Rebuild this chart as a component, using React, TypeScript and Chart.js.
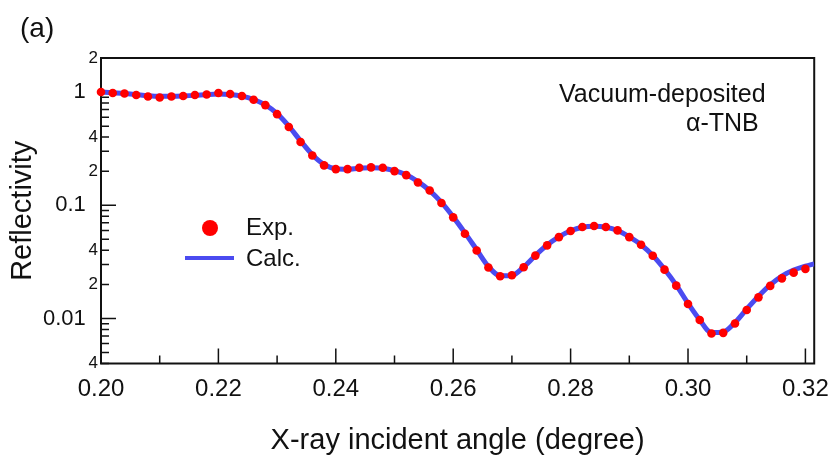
import React, { useEffect, useRef } from "react";
import { Chart, registerables } from "chart.js";

Chart.register(...registerables);

// ---- data ----
const expAngles = [
  0.200, 0.202, 0.204, 0.206, 0.208, 0.210, 0.212, 0.214, 0.216, 0.218,
  0.220, 0.222, 0.224, 0.226, 0.228, 0.230, 0.232, 0.234, 0.236, 0.238,
  0.240, 0.242, 0.244, 0.246, 0.248, 0.250, 0.252, 0.254, 0.256, 0.258,
  0.260, 0.262, 0.264, 0.266, 0.268, 0.270, 0.272, 0.274, 0.276, 0.278,
  0.280, 0.282, 0.284, 0.286, 0.288, 0.290, 0.292, 0.294, 0.296, 0.298,
  0.300, 0.302, 0.304, 0.306, 0.308, 0.310, 0.312, 0.314, 0.316, 0.318,
  0.320,
];
const expReflectivity = [
  1.000, 0.980, 0.972, 0.941, 0.914, 0.896, 0.914, 0.922, 0.941, 0.952,
  0.980, 0.960, 0.922, 0.855, 0.767, 0.638, 0.492, 0.362, 0.275, 0.225,
  0.2087, 0.2087, 0.2143, 0.216, 0.2143, 0.2003, 0.1846, 0.159, 0.135, 0.1048,
  0.0782, 0.0561, 0.0399, 0.0282, 0.0236, 0.0241, 0.0283, 0.0359, 0.0442, 0.0523,
  0.0592, 0.0642, 0.0655, 0.0642, 0.0600, 0.0523, 0.0448, 0.0358, 0.0270, 0.0195,
  0.01342, 0.00968, 0.00736, 0.00746, 0.00903, 0.01187, 0.01536, 0.0194, 0.0226, 0.0254,
  0.0274,
];
const calcAngles = [
  0.200, 0.202, 0.204, 0.206, 0.208, 0.210, 0.212, 0.214, 0.216, 0.218,
  0.220, 0.222, 0.224, 0.226, 0.228, 0.230, 0.232, 0.234, 0.236, 0.238,
  0.240, 0.242, 0.244, 0.246, 0.248, 0.250, 0.252, 0.254, 0.256, 0.258,
  0.260, 0.262, 0.264, 0.266, 0.268, 0.270, 0.272, 0.274, 0.276, 0.278,
  0.280, 0.282, 0.284, 0.286, 0.288, 0.290, 0.292, 0.294, 0.296, 0.298,
  0.300, 0.302, 0.304, 0.306, 0.308, 0.310, 0.312, 0.314, 0.316, 0.318,
  0.320, 0.3215,
];
const calcReflectivity = [
  1.000, 0.985, 0.970, 0.950, 0.930, 0.920, 0.920, 0.925, 0.935, 0.950,
  0.960, 0.950, 0.920, 0.860, 0.770, 0.645, 0.500, 0.370, 0.280, 0.230,
  0.210, 0.208, 0.212, 0.214, 0.212, 0.202, 0.186, 0.162, 0.135, 0.106,
  0.079, 0.057, 0.0405, 0.0288, 0.0238, 0.0240, 0.0285, 0.0360, 0.0445, 0.0525,
  0.0595, 0.0640, 0.0652, 0.0640, 0.0598, 0.0525, 0.0448, 0.0360, 0.0272, 0.0197,
  0.0136, 0.0097, 0.0075, 0.0076, 0.0092, 0.0121, 0.0157, 0.0198, 0.0237, 0.0268,
  0.0290, 0.0304,
];

// x axis ticks
const xTickValues = [0.20, 0.21, 0.22, 0.23, 0.24, 0.25, 0.26, 0.27, 0.28, 0.29, 0.30, 0.31, 0.32];
const xTickLabels = ["0.20", "", "0.22", "", "0.24", "", "0.26", "", "0.28", "", "0.30", "", "0.32"];

// y axis ticks (log)
const yTickValues = [
  0.004, 0.005, 0.006, 0.007, 0.008, 0.009,
  0.01, 0.02, 0.03, 0.04, 0.05, 0.06, 0.07, 0.08, 0.09,
  0.1, 0.2, 0.3, 0.4, 0.5, 0.6, 0.7, 0.8, 0.9,
  1, 2,
];
const yMajorValues = [0.01, 0.1, 1];
const yMajorLabels = ["0.01", "0.1", "1"];
const yMinorLabelValues = [0.004, 0.02, 0.04, 0.2, 0.4, 2];
const yMinorLabels = ["4", "2", "4", "2", "4", "2"];

const FONT = '"Liberation Sans", Arial, Helvetica, sans-serif';
const INK = "#111111";
const RED = "#ff0000";
const BLUE = "#4b4bf0";

const near = (a: number, b: number) => Math.abs(a - b) <= Math.abs(b) * 1e-6 + 1e-9;
const majorIndex = (v: number) => yMajorValues.findIndex((m) => near(v, m));
const minorLabelIndex = (v: number) => yMinorLabelValues.findIndex((m) => near(v, m));

const decorPlugin = {
  id: "decor",
  beforeDatasetsDraw(chart: any) {
    const { ctx, chartArea: a, scales } = chart;
    const xs = scales.x;
    const ys = scales.y;
    ctx.save();
    ctx.strokeStyle = INK;
    ctx.lineWidth = 1.5;
    ctx.beginPath();
    yTickValues.forEach((v) => {
      const py = ys.getPixelForValue(v);
      const len = majorIndex(v) >= 0 ? 15 : 8;
      ctx.moveTo(a.left, py);
      ctx.lineTo(a.left + len, py);
    });
    xTickValues.forEach((v, i) => {
      const px = xs.getPixelForValue(v);
      const len = xTickLabels[i] !== "" ? 15 : 8;
      ctx.moveTo(px, a.bottom);
      ctx.lineTo(px, a.bottom - len);
    });
    ctx.stroke();
    ctx.lineWidth = 2;
    ctx.strokeRect(a.left, a.top, a.right - a.left, a.bottom - a.top);
    ctx.restore();
  },
  afterDraw(chart: any) {
    const { ctx } = chart;
    ctx.save();
    ctx.fillStyle = INK;
    ctx.textBaseline = "middle";
    ctx.textAlign = "left";
    // panel label
    ctx.font = `28px ${FONT}`;
    ctx.fillText("(a)", 20, 29);
    // sample annotation
    ctx.font = `25px ${FONT}`;
    ctx.fillText("Vacuum-deposited", 559, 95);
    ctx.fillText("\u03b1-TNB", 686, 124);
    // legend
    ctx.fillStyle = RED;
    ctx.beginPath();
    ctx.arc(210, 228, 8, 0, Math.PI * 2);
    ctx.fill();
    ctx.strokeStyle = BLUE;
    ctx.lineWidth = 4;
    ctx.beginPath();
    ctx.moveTo(185, 258);
    ctx.lineTo(234, 258);
    ctx.stroke();
    ctx.fillStyle = INK;
    ctx.font = `24px ${FONT}`;
    ctx.fillText("Exp.", 246, 228);
    ctx.fillText("Calc.", 246, 259);
    ctx.restore();
  },
};

export default function App() {
  const canvasRef = useRef<HTMLCanvasElement | null>(null);

  useEffect(() => {
    const canvas = canvasRef.current;
    if (!canvas) return;
    const chart = new Chart(canvas, {
      type: "line",
      data: {
        datasets: [
          {
            label: "Exp.",
            data: expAngles.map((x, i) => ({ x, y: expReflectivity[i] })),
            showLine: false,
            pointRadius: 4.3,
            pointBackgroundColor: RED,
            pointBorderWidth: 0,
            pointBorderColor: RED,
            clip: false as any,
          },
          {
            label: "Calc.",
            data: calcAngles.map((x, i) => ({ x, y: calcReflectivity[i] })),
            borderColor: BLUE,
            borderWidth: 5,
            pointRadius: 0,
            cubicInterpolationMode: "monotone",
            fill: false,
          },
        ],
      },
      options: {
        responsive: false,
        animation: false,
        events: [],
        layout: { padding: { left: 0, right: 19, top: 58, bottom: 0 } },
        plugins: {
          legend: { display: false },
          tooltip: { enabled: false },
        },
        scales: {
          x: {
            type: "linear",
            position: "bottom",
            min: 0.2,
            max: 0.3215,
            grid: { display: false, drawTicks: false },
            border: { display: false },
            afterBuildTicks: (scale: any) => {
              scale.ticks = xTickValues.map((v) => ({ value: v }));
            },
            afterFit: (scale: any) => {
              scale.height = 105.5;
            },
            ticks: {
              autoSkip: false,
              maxRotation: 0,
              minRotation: 0,
              padding: 11,
              color: INK,
              font: { family: FONT, size: 24 },
              callback: (value: any) => {
                const i = xTickValues.findIndex((t) => near(Number(value), t));
                return i >= 0 ? xTickLabels[i] : "";
              },
            },
            title: {
              display: true,
              text: "X-ray incident angle (degree)",
              color: INK,
              font: { family: FONT, size: 29 },
              padding: { top: 0, bottom: 10.6 },
            },
          },
          y: {
            type: "logarithmic",
            position: "left",
            min: 0.004,
            max: 2,
            grid: { display: false, drawTicks: false },
            border: { display: false },
            afterBuildTicks: (scale: any) => {
              scale.ticks = yTickValues.map((v) => ({ value: v }));
            },
            afterFit: (scale: any) => {
              scale.width = 101;
            },
            ticks: {
              autoSkip: false,
              padding: 3,
              color: INK,
              font: (ctx: any) => {
                const v = ctx.tick ? ctx.tick.value : 0;
                return { family: FONT, size: majorIndex(v) >= 0 ? 22 : 17 };
              },
              callback: (value: any) => {
                const v = Number(value);
                const mi = majorIndex(v);
                if (mi >= 0) return yMajorLabels[mi] + "  ";
                const ni = minorLabelIndex(v);
                return ni >= 0 ? yMinorLabels[ni] : "";
              },
            },
            title: {
              display: true,
              text: "Reflectivity",
              color: INK,
              font: { family: FONT, size: 29 },
              padding: { top: 5.6, bottom: 0 },
            },
          },
        },
      },
      plugins: [decorPlugin],
    } as any);
    return () => chart.destroy();
  }, []);

  return (
    <div style={{ position: "absolute", left: 0, top: 0, width: 840, height: 469, background: "#ffffff" }}>
      <canvas ref={canvasRef} width={840} height={469} style={{ display: "block" }} />
    </div>
  );
}
